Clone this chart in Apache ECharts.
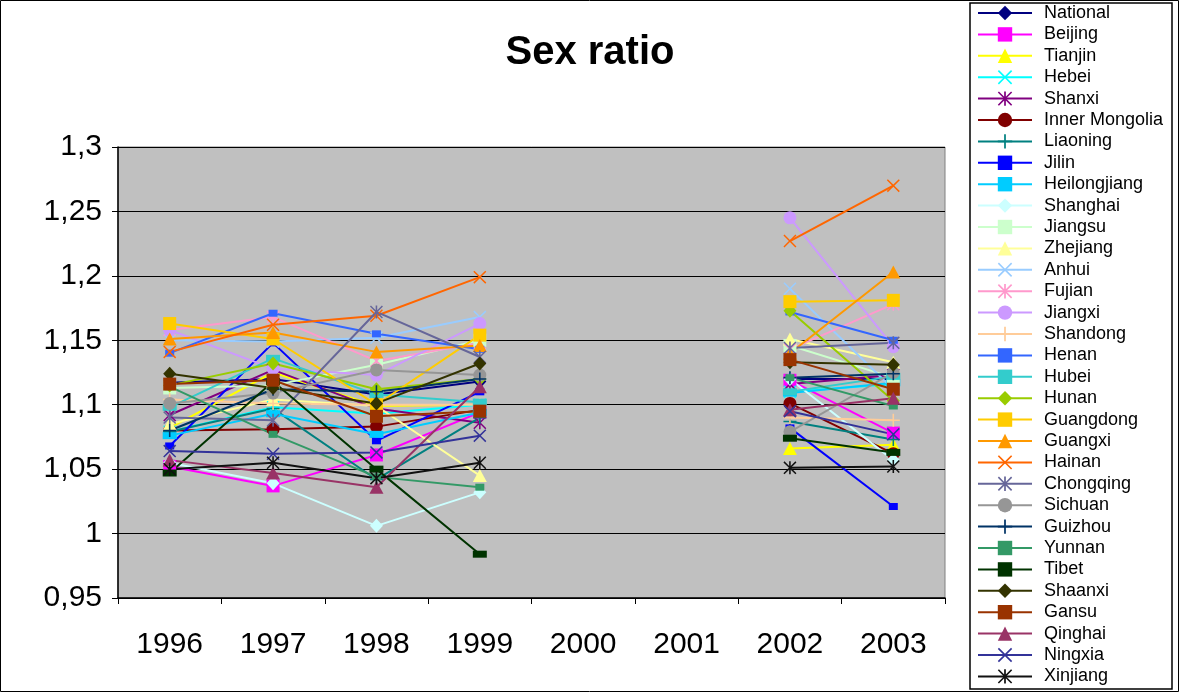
<!DOCTYPE html>
<html>
<head>
<meta charset="utf-8">
<script src="https://cdn.jsdelivr.net/npm/echarts@6/dist/echarts.min.js"></script>
<style>
  html, body { margin: 0; padding: 0; background: #fff; }
  #chart { width: 1180px; height: 693px; }
</style>
</head>
<body>
<div id="chart"></div>
<script>
// Years on the category axis (no survey values for 2000 and 2001)
const years = ['1996', '1997', '1998', '1999', '2000', '2001', '2002', '2003'];

// Sex ratio by region, one value per year
const national     = [1.117, 1.120, 1.108, 1.118, null, null, 1.120, 1.120];
const beijing      = [1.052, 1.037, 1.061, 1.094, null, null, 1.119, 1.078];
const tianjin      = [1.082, 1.125, 1.099, 1.100, null, null, 1.066, 1.069];
const hebei        = [1.079, 1.098, 1.093, 1.100, null, null, 1.110, 1.116];
const shanxi       = [1.092, 1.127, 1.097, 1.086, null, null, 1.116, 1.123];
const innerMongolia= [1.080, 1.081, 1.083, 1.096, null, null, 1.101, 1.062];
const liaoning     = [1.079, 1.097, 1.042, 1.090, null, null, 1.087, 1.073];
const jilin        = [1.068, 1.148, 1.072, 1.110, null, null, 1.082, 1.021];
const heilongjiang = [1.076, 1.093, 1.077, 1.094, null, null, 1.109, 1.117];
const shanghai     = [1.055, 1.039, 1.006, 1.032, null, null, 1.120, 1.057];
const jiangsu      = [1.113, 1.115, 1.131, 1.150, null, null, 1.146, 1.121];
const zhejiang     = [1.085, 1.104, 1.099, 1.045, null, null, 1.151, 1.133];
const anhui        = [1.150, 1.149, 1.152, 1.168, null, null, 1.190, 1.112];
const fujian       = [1.158, 1.168, 1.134, 1.148, null, null, 1.143, 1.178];
const jiangxi      = [1.158, 1.128, 1.123, 1.163, null, null, 1.245, 1.145];
const shandong     = [1.104, 1.101, 1.100, 1.100, null, null, 1.090, 1.088];
const henan        = [1.140, 1.171, 1.155, 1.143, null, null, 1.172, 1.150];
const hubei        = [1.098, 1.136, 1.108, 1.102, null, null, 1.110, 1.122];
const hunan        = [1.115, 1.132, 1.112, 1.120, null, null, 1.173, 1.103];
const guangdong    = [1.163, 1.151, 1.100, 1.154, null, null, 1.180, 1.181];
const guangxi      = [1.151, 1.156, 1.141, 1.146, null, null, 1.140, 1.203];
const hainan       = [1.141, 1.162, 1.169, 1.199, null, null, 1.227, 1.270];
const chongqing    = [1.090, 1.088, 1.172, 1.137, null, null, 1.144, 1.148];
const sichuan      = [1.101, 1.109, 1.127, 1.123, null, null, 1.079, 1.125];
const guizhou      = [1.080, 1.112, 1.110, 1.120, null, null, 1.121, 1.124];
const yunnan       = [1.114, 1.077, 1.044, 1.036, null, null, 1.121, 1.099];
const tibet        = [1.047, 1.118, 1.050, 0.984, null, null, 1.074, 1.063];
const shaanxi      = [1.124, 1.113, 1.101, 1.132, null, null, 1.133, 1.131];
const gansu        = [1.116, 1.119, 1.091, 1.095, null, null, 1.135, 1.112];
const qinghai      = [1.057, 1.047, 1.036, 1.114, null, null, 1.096, 1.105];
const ningxia      = [1.064, 1.062, 1.063, 1.076, null, null, 1.095, 1.077];
const xinjiang     = [1.050, 1.055, 1.043, 1.055, null, null, 1.051, 1.052];

// Value axis range and step
const yMin = 0.95, yMax = 1.3, yStep = 0.05;

// Marker shapes
const X_PATH = 'path://M0,0.8L0.8,0L5,4.2L9.2,0L10,0.8L5.8,5L10,9.2L9.2,10L5,5.8L0.8,10L0,9.2L4.2,5Z';
const PLUS_PATH = 'path://M4.4,0H5.6V4.4H10V5.6H5.6V10H4.4V5.6H0V4.4H4.4Z';
const STAR_PATH = 'path://M0,0.8L0.8,0L5,4.2L9.2,0L10,0.8L5.8,5L10,9.2L9.2,10L5,5.8L0.8,10L0,9.2L4.2,5ZM4.4,0H5.6V10H4.4Z';

const M = {
  diamond: { symbol: 'diamond', size: [13, 14] },
  square:  { symbol: 'rect', size: [13, 13] },
  tri:     { symbol: 'triangle', size: [14, 13] },
  x:       { symbol: X_PATH, size: [13, 13] },
  star:    { symbol: STAR_PATH, size: [13, 13] },
  circle:  { symbol: 'circle', size: [13, 13] },
  plus:    { symbol: PLUS_PATH, size: [13, 13] },
  small:   { symbol: 'rect', size: [9, 7] },
  bar:     { symbol: 'rect', size: [14, 7] }
};

const regions = [
  ['National', national, '#000080', M.diamond],
  ['Beijing', beijing, '#FF00FF', M.square],
  ['Tianjin', tianjin, '#FFFF00', M.tri],
  ['Hebei', hebei, '#00FFFF', M.x],
  ['Shanxi', shanxi, '#800080', M.star],
  ['Inner Mongolia', innerMongolia, '#800000', M.circle],
  ['Liaoning', liaoning, '#008080', M.plus],
  ['Jilin', jilin, '#0000FF', M.small],
  ['Heilongjiang', heilongjiang, '#00CCFF', M.bar],
  ['Shanghai', shanghai, '#CCFFFF', M.diamond],
  ['Jiangsu', jiangsu, '#CCFFCC', M.square],
  ['Zhejiang', zhejiang, '#FFFF99', M.tri],
  ['Anhui', anhui, '#99CCFF', M.x],
  ['Fujian', fujian, '#FF99CC', M.star],
  ['Jiangxi', jiangxi, '#CC99FF', M.circle],
  ['Shandong', shandong, '#FFCC99', M.plus],
  ['Henan', henan, '#3366FF', M.small],
  ['Hubei', hubei, '#33CCCC', M.bar],
  ['Hunan', hunan, '#99CC00', M.diamond],
  ['Guangdong', guangdong, '#FFCC00', M.square],
  ['Guangxi', guangxi, '#FF9900', M.tri],
  ['Hainan', hainan, '#FF6600', M.x],
  ['Chongqing', chongqing, '#666699', M.star],
  ['Sichuan', sichuan, '#969696', M.circle],
  ['Guizhou', guizhou, '#003366', M.plus],
  ['Yunnan', yunnan, '#339966', M.small],
  ['Tibet', tibet, '#003300', M.bar],
  ['Shaanxi', shaanxi, '#333300', M.diamond],
  ['Gansu', gansu, '#993300', M.square],
  ['Qinghai', qinghai, '#993366', M.tri],
  ['Ningxia', ningxia, '#333399', M.x],
  ['Xinjiang', xinjiang, '#111111', M.star]
];

const FONT = 'Liberation Sans, Arial, sans-serif';

const series = regions.map(([name, values, color, mk]) => ({
  name,
  type: 'line',
  data: values,
  connectNulls: false,
  symbol: mk.symbol,
  symbolSize: mk.size,
  showSymbol: true,
  lineStyle: { color, width: 2 },
  itemStyle: { color, borderWidth: 0 },
  emphasis: { disabled: true },
  animation: false
}));

const chart = echarts.init(document.getElementById('chart'), null, { renderer: 'canvas' });

chart.setOption({
  backgroundColor: '#ffffff',
  animation: false,
  title: {
    text: 'Sex ratio',
    left: 585,
    top: 28,
    textAlign: 'center',
    textStyle: { fontFamily: FONT, fontWeight: 'bold', fontSize: 40, color: '#000' }
  },
  grid: {
    left: 118, top: 147, width: 827, height: 451,
    show: true, backgroundColor: '#C0C0C0', borderColor: '#808080', borderWidth: 1
  },
  xAxis: {
    type: 'category',
    data: years,
    boundaryGap: true,
    axisLine: { lineStyle: { color: '#000', width: 1.5 } },
    axisTick: { show: true, length: 6, inside: false, lineStyle: { color: '#000' } },
    axisLabel: { fontFamily: FONT, fontSize: 30, color: '#000', margin: 32 },
    splitLine: { show: false }
  },
  yAxis: {
    type: 'value',
    min: yMin, max: yMax, interval: yStep,
    axisLine: { show: true, lineStyle: { color: '#000', width: 1.5 } },
    axisTick: { show: true, length: 6, lineStyle: { color: '#000' } },
    axisLabel: {
      fontFamily: FONT, fontSize: 30, color: '#000', margin: 16,
      formatter: v => String(Math.round(v * 100) / 100).replace('.', ',')
    },
    splitLine: { show: true, lineStyle: { color: '#000', width: 1.2 } }
  },
  legend: {
    orient: 'vertical',
    left: 977, top: 4,
    padding: 0,
    itemWidth: 54, itemHeight: 18, itemGap: 3.4,
    data: regions.map(r => r[0]),
    textStyle: { fontFamily: FONT, fontSize: 18, lineHeight: 18, color: '#000', padding: [0, 0, 0, 7] },
    selectedMode: false
  },
  graphic: [
    { type: 'rect', shape: { x: 0.5, y: 0.5, width: 1178, height: 691 },
      style: { fill: 'none', stroke: '#000', lineWidth: 1 }, silent: true, z: -1 },
    { type: 'rect', shape: { x: 970, y: 3, width: 202, height: 686 },
      style: { fill: '#fff', stroke: '#000', lineWidth: 1.5 }, silent: true, z: -1 }
  ],
  series
});
</script>
</body>
</html>
